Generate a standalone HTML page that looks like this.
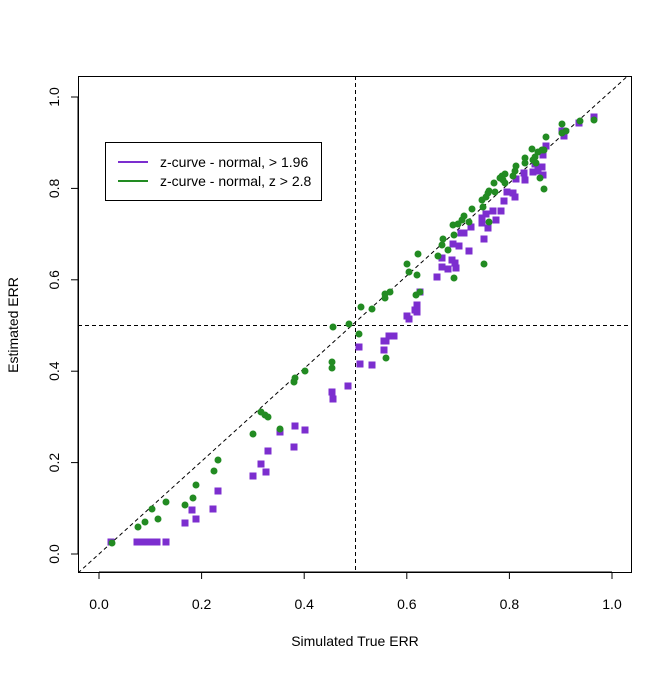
<!DOCTYPE html>
<html><head><meta charset="utf-8"><style>html,body{margin:0;padding:0;background:#fff}</style></head><body>
<svg width="672" height="671" xmlns="http://www.w3.org/2000/svg" font-family="Liberation Sans, sans-serif" font-size="14">
<rect width="672" height="671" fill="#fff"/>
<defs><clipPath id="c"><rect x="78" y="76" width="553" height="496"/></clipPath></defs>
<g clip-path="url(#c)" stroke="#000" stroke-width="1" stroke-dasharray="4,3" fill="none">
<line x1="78" y1="573" x2="631" y2="73"/>
<line x1="355.5" y1="76" x2="355.5" y2="572"/>
<line x1="78" y1="325.5" x2="631" y2="325.5"/>
</g>
<rect x="78.5" y="76.5" width="553" height="496" fill="none" stroke="#000"/>
<g stroke="#000">
<line x1="99" y1="572" x2="612" y2="572"/>
<line x1="99" y1="572" x2="99" y2="579"/><line x1="201.6" y1="572" x2="201.6" y2="579"/><line x1="304.2" y1="572" x2="304.2" y2="579"/><line x1="406.8" y1="572" x2="406.8" y2="579"/><line x1="509.4" y1="572" x2="509.4" y2="579"/><line x1="612" y1="572" x2="612" y2="579"/>
<line x1="78" y1="97" x2="78" y2="554"/>
<line x1="78" y1="554" x2="71" y2="554"/><line x1="78" y1="462.6" x2="71" y2="462.6"/><line x1="78" y1="371.2" x2="71" y2="371.2"/><line x1="78" y1="279.8" x2="71" y2="279.8"/><line x1="78" y1="188.4" x2="71" y2="188.4"/><line x1="78" y1="97" x2="71" y2="97"/>
</g>
<g text-anchor="middle">
<text x="99" y="609">0.0</text><text x="201.6" y="609">0.2</text><text x="304.2" y="609">0.4</text><text x="406.8" y="609">0.6</text><text x="509.4" y="609">0.8</text><text x="612" y="609">1.0</text>
<text x="355" y="646">Simulated True ERR</text>
<g transform="translate(59,0)">
<text transform="translate(0,554) rotate(-90)">0.0</text><text transform="translate(0,462.6) rotate(-90)">0.2</text><text transform="translate(0,371.2) rotate(-90)">0.4</text><text transform="translate(0,279.8) rotate(-90)">0.6</text><text transform="translate(0,188.4) rotate(-90)">0.8</text><text transform="translate(0,97) rotate(-90)">1.0</text>
</g>
<text transform="translate(18,325) rotate(-90)">Estimated ERR</text>
</g>
<g fill="#7c2ecf" id="p"></g>
<g fill="#228b22" id="g"></g>
<rect x="105.5" y="142.5" width="216" height="58" fill="#fff" stroke="#000"/>
<line x1="118" y1="162" x2="148" y2="162" stroke="#7c2ecf" stroke-width="2"/>
<line x1="118" y1="181" x2="148" y2="181" stroke="#228b22" stroke-width="2"/>
<text x="160" y="167">z-curve - normal, &gt; 1.96</text>
<text x="160" y="186">z-curve - normal, z &gt; 2.8</text>
<script>
var P=[[111,542],[137,542],[143,542],[150,542],[157,542],[166,542],[185,523],[192,510],[196,519],[213,509],[218,491],[253,476],[261,464],[266,472],[268,451],[280,432],[294,447],[295,426],[305,430],[332,392],[333,399],[348,386],[359,347],[360,364],[372,365],[384,350],[384,341],[386,341],[389,336],[394,336],[407,316],[409,319],[415,310],[417,305],[417,312],[420,292],[437,277],[442,267],[442,258],[448,269],[452,260],[455,263],[456,268],[453,244],[459,246],[469,251],[461,233],[464,233],[471,227],[484,239],[482,218],[482,223],[488,228],[486,214],[493,211],[496,220],[501,211],[504,201],[507,192],[513,193],[515,197],[516,179],[525,180],[524,173],[533,172],[535,164],[538,171],[542,167],[543,175],[546,146],[543,155],[562,131],[564,136],[579,123],[594,117]];
var G=[[112,543],[138,527],[145,522],[152,509],[158,519],[166,502],[185,505],[193,498],[196,485],[214,471],[218,460],[253,434],[261,412],[265,415],[268,417],[280,429],[294,382],[295,378],[305,371],[332,362],[332,368],[333,327],[349,324],[359,334],[361,307],[372,309],[385,298],[385,294],[390,292],[386,358],[416,295],[420,292],[407,264],[409,272],[417,275],[418,254],[438,256],[442,245],[443,239],[448,250],[454,278],[453,225],[454,235],[458,224],[462,220],[464,216],[469,222],[472,209],[483,207],[482,200],[484,264],[486,197],[488,193],[489,191],[489,222],[494,183],[495,192],[500,178],[502,176],[505,174],[503,180],[505,183],[513,176],[515,171],[516,166],[525,158],[525,163],[532,149],[533,160],[535,157],[536,163],[538,152],[540,178],[542,150],[544,189],[546,137],[544,150],[562,124],[562,133],[566,131],[580,121],[594,120]];
var ns="http://www.w3.org/2000/svg",pg=document.getElementById('p'),gg=document.getElementById('g');
P.forEach(function(a){var r=document.createElementNS(ns,'rect');r.setAttribute('x',a[0]-3.5);r.setAttribute('y',a[1]-3.5);r.setAttribute('width',7);r.setAttribute('height',7);pg.appendChild(r);});
G.forEach(function(a){var c=document.createElementNS(ns,'circle');c.setAttribute('cx',a[0]);c.setAttribute('cy',a[1]);c.setAttribute('r',3.5);gg.appendChild(c);});
</script>
</svg>
</body></html>
